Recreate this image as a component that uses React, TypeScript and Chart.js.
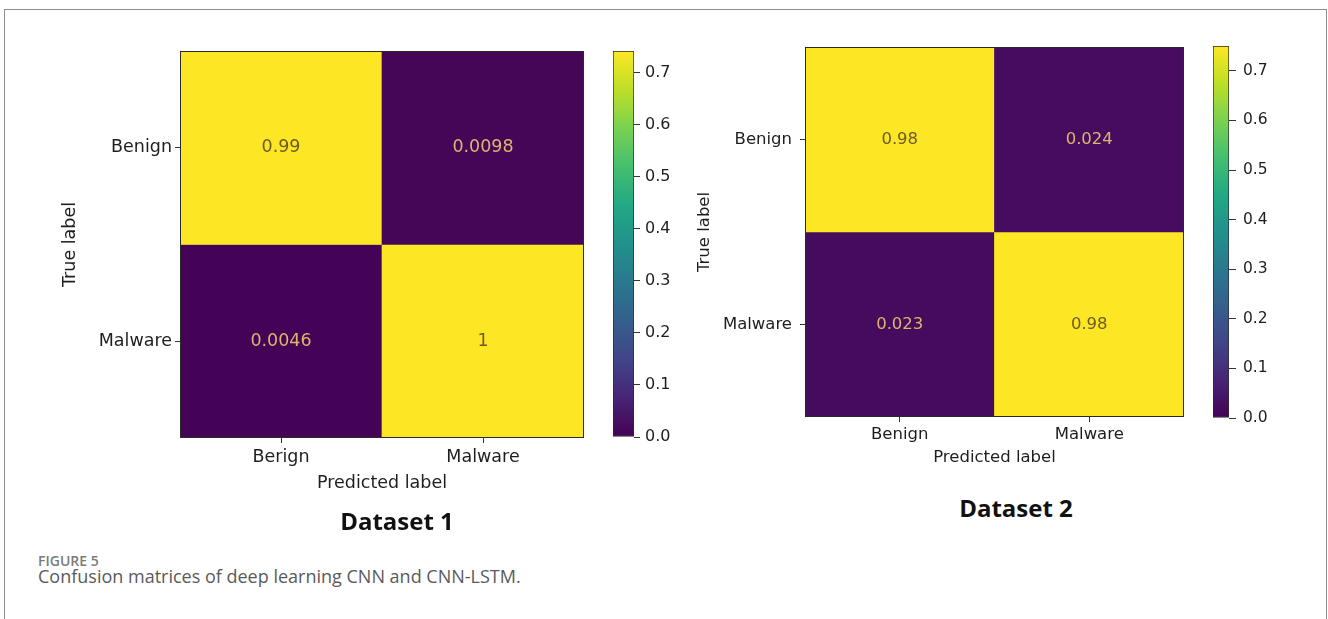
import React, { useEffect, useRef } from 'react';
import { Chart, registerables } from 'chart.js';

Chart.register(...registerables);

// ---------------- data ----------------
const rowLabels = ['Benign', 'Malware'];
const colLabels1 = ['Berign', 'Malware'];
const colLabels2 = ['Benign', 'Malware'];
const matrix1Benign = [0.99, 0.0098];
const matrix1Malware = [0.0046, 1];
const matrix2Benign = [0.98, 0.024];
const matrix2Malware = [0.023, 0.98];
const colorbarTicks = [0, 0.1, 0.2, 0.3, 0.4, 0.5, 0.6, 0.7];
const colorbarMax1 = 0.742;
const colorbarMax2 = 0.75;
const xTitle = 'Predicted label';
const yTitle = 'True label';
const panelTitle1 = 'Dataset 1';
const panelTitle2 = 'Dataset 2';
const figureLabel = 'FIGURE 5';
const captionText = 'Confusion matrices of deep learning CNN and CNN-LSTM.';

// ---------------- colormap ----------------
const VIRIDIS = ['#440154', '#482475', '#414487', '#355f8d', '#2a788e', '#21918c', '#22a884', '#44bf70', '#7ad151', '#bddf26', '#fde725'];

function hexToRgb(h: string) {
  const n = parseInt(h.slice(1), 16);
  return [(n >> 16) & 255, (n >> 8) & 255, n & 255];
}

function viridis(t: number) {
  const tt = Math.max(0, Math.min(1, t));
  const p = tt * (VIRIDIS.length - 1);
  const i = Math.min(Math.floor(p), VIRIDIS.length - 2);
  const f = p - i;
  const a = hexToRgb(VIRIDIS[i]);
  const b = hexToRgb(VIRIDIS[i + 1]);
  const c = a.map((v, k) => Math.round(v + (b[k] - v) * f));
  return `rgb(${c[0]},${c[1]},${c[2]})`;
}

const FONT = 'DejaVu Sans';
const TEXT = '#1e1e1e';

const cellTextPlugin = {
  id: 'cellText',
  afterDatasetsDraw(chart: any, _args: any, opts: any) {
    const ctx = chart.ctx;
    ctx.save();
    ctx.font = `${opts.size}px "${FONT}"`;
    ctx.textAlign = 'center';
    ctx.textBaseline = 'middle';
    chart.data.datasets.forEach((ds: any, di: number) => {
      const meta = chart.getDatasetMeta(di);
      meta.data.forEach((el: any, i: number) => {
        const v = ds.cellValues[i];
        const { x, y, base } = el.getProps(['x', 'y', 'base'], true);
        ctx.fillStyle = v / opts.vmax > 0.5 ? '#6e5a26' : '#dfb46c';
        ctx.fillText(String(v), x, (y + base) / 2);
      });
    });
    const a = chart.chartArea;
    ctx.strokeStyle = '#2a2a2a';
    ctx.lineWidth = 1;
    ctx.strokeRect(Math.round(a.left) + 0.5, Math.round(a.top) + 0.5, Math.round(a.right - a.left) - 1, Math.round(a.bottom - a.top) - 1);
    ctx.restore();
  },
};

function makeMatrixConfig(rows: number[][], cols: string[], vmax: number, g: any) {
  const n = rows.length;
  const rowCenters = rows.map((_, r) => n - r - 0.5);
  const font = { family: FONT, size: g.font };
  return {
    type: 'bar',
    data: {
      labels: cols,
      datasets: rows.map((row, r) => ({
        data: row.map(() => [n - 1 - r, n - r]),
        backgroundColor: row.map((v) => viridis(v / vmax)),
        cellValues: row,
        borderWidth: 0,
        barPercentage: 1,
        categoryPercentage: 1,
        grouped: false,
      })),
    },
    options: {
      animation: false,
      responsive: false,
      maintainAspectRatio: false,
      events: [],
      layout: { padding: { left: 0, top: g.top, right: g.right, bottom: g.bottom } },
      plugins: {
        legend: { display: false },
        tooltip: { enabled: false },
        cellText: { size: g.cellFont, vmax },
      },
      scales: {
        x: {
          type: 'category',
          offset: true,
          grid: { display: true, drawOnChartArea: false, drawTicks: true, tickLength: 5, offset: false, color: '#333', tickColor: '#333' },
          border: { display: false },
          ticks: { font, color: TEXT, padding: g.xTickPad, maxRotation: 0, autoSkip: false },
          title: { display: true, text: xTitle, font, color: TEXT, padding: { top: 0, bottom: 0 } },
          afterFit: (s: any) => { s.height = g.xAxisH; },
        },
        y: {
          type: 'linear',
          min: 0,
          max: n,
          afterBuildTicks: (s: any) => { s.ticks = rowCenters.map((v) => ({ value: v })); },
          ticks: {
            font,
            color: TEXT,
            padding: g.yTickPad,
            callback: (v: number) => rowLabels[Math.floor(n - v)],
          },
          grid: { display: true, drawOnChartArea: false, drawTicks: true, tickLength: 5, color: '#333', tickColor: '#333' },
          border: { display: false },
          title: { display: true, text: yTitle, font, color: TEXT, padding: { top: g.yTitlePad, bottom: 0 } },
          afterFit: (s: any) => { s.width = g.yAxisW; },
        },
      },
    },
    plugins: [cellTextPlugin],
  } as any;
}

function makeColorbarConfig(vmax: number, g: any) {
  return {
    type: 'bar',
    data: {
      labels: [''],
      datasets: [{
        data: [vmax],
        backgroundColor: (c: any) => {
          const chart = c.chart;
          const { chartArea, scales } = chart;
          if (!chartArea || !scales.y) return VIRIDIS[0];
          const y0 = scales.y.getPixelForValue(0);
          const y1 = scales.y.getPixelForValue(vmax);
          const grad = chart.ctx.createLinearGradient(0, y0, 0, y1);
          VIRIDIS.forEach((col, i) => grad.addColorStop(i / (VIRIDIS.length - 1), col));
          return grad;
        },
        borderColor: '#2a2a2a',
        borderWidth: 1,
        borderSkipped: false,
        barPercentage: 1,
        categoryPercentage: 1,
      }],
    },
    options: {
      animation: false,
      responsive: false,
      maintainAspectRatio: false,
      events: [],
      layout: { padding: { left: g.left, top: g.top, right: 0, bottom: g.bottom } },
      plugins: { legend: { display: false }, tooltip: { enabled: false } },
      scales: {
        x: { display: false },
        y: {
          position: 'right',
          min: 0,
          max: vmax,
          afterBuildTicks: (s: any) => { s.ticks = colorbarTicks.map((v) => ({ value: v })); },
          ticks: { font: { family: FONT, size: g.font }, color: TEXT, padding: g.tickPad, callback: (v: number) => v.toFixed(1) },
          grid: { display: true, drawOnChartArea: false, drawTicks: true, tickLength: g.tickLen, color: '#333', tickColor: '#333' },
          border: { display: false },
          afterFit: (s: any) => { s.width = g.axisW; },
        },
      },
    },
  } as any;
}

const geoM1 = { top: 51, right: 16, bottom: 16, font: 17.5, cellFont: 17.5, xTickPad: 4, xAxisH: 56, yTickPad: 3, yTitlePad: 60, yAxisW: 180 };
const geoM2 = { top: 47, right: 16, bottom: 22, font: 16.5, cellFont: 16.5, xTickPad: 3, xAxisH: 51, yTickPad: 8, yTitlePad: 15, yAxisW: 125 };
const geoC1 = { left: 23, top: 51, bottom: 33, font: 16, tickPad: 5, tickLen: 6, axisW: 46 };
const geoC2 = { left: 23, top: 46, bottom: 32, font: 15.5, tickPad: 7, tickLen: 7, axisW: 61 };

function Canvas({ refObj, left, top, width, height }: any) {
  return (
    <canvas
      ref={refObj}
      width={width}
      height={height}
      style={{ position: 'absolute', left, top, width, height }}
    />
  );
}

export default function App() {
  const m1 = useRef<HTMLCanvasElement>(null);
  const m2 = useRef<HTMLCanvasElement>(null);
  const c1 = useRef<HTMLCanvasElement>(null);
  const c2 = useRef<HTMLCanvasElement>(null);

  useEffect(() => {
    const charts = [
      new Chart(m1.current as HTMLCanvasElement, makeMatrixConfig([matrix1Benign, matrix1Malware], colLabels1, colorbarMax1, geoM1)),
      new Chart(m2.current as HTMLCanvasElement, makeMatrixConfig([matrix2Benign, matrix2Malware], colLabels2, colorbarMax2, geoM2)),
      new Chart(c1.current as HTMLCanvasElement, makeColorbarConfig(colorbarMax1, geoC1)),
      new Chart(c2.current as HTMLCanvasElement, makeColorbarConfig(colorbarMax2, geoC2)),
    ];
    return () => charts.forEach((c) => c.destroy());
  }, []);

  return (
    <div style={{ position: 'absolute', left: 0, top: 0, width: 1328, height: 619, background: '#fff', overflow: 'hidden' }}>
      <div style={{ position: 'absolute', left: 4, top: 9, width: 1323, height: 640, border: '1px solid #8e8e8e', borderBottom: 'none', boxSizing: 'border-box' }} />
      <Canvas refObj={m1} left={0} top={0} width={600} height={510} />
      <Canvas refObj={c1} left={590} top={0} width={90} height={470} />
      <Canvas refObj={m2} left={680} top={0} width={520} height={490} />
      <Canvas refObj={c2} left={1190} top={0} width={100} height={450} />
      <div style={{ position: 'absolute', left: 297, width: 200, top: 506, textAlign: 'center', fontFamily: '"Open Sans"', fontWeight: 700, fontSize: 24, lineHeight: '30px', color: '#111' }}>{panelTitle1}</div>
      <div style={{ position: 'absolute', left: 916, width: 200, top: 493, textAlign: 'center', fontFamily: '"Open Sans"', fontWeight: 700, fontSize: 24, lineHeight: '30px', color: '#111' }}>{panelTitle2}</div>
      <div style={{ position: 'absolute', left: 38, top: 552, fontFamily: '"Open Sans"', fontWeight: 600, fontSize: 14, lineHeight: '18px', color: '#7a7a7a' }}>{figureLabel}</div>
      <div style={{ position: 'absolute', left: 38, top: 565, fontFamily: '"Open Sans"', fontWeight: 400, fontSize: 18, lineHeight: '22px', color: '#5a5a5a', whiteSpace: 'nowrap' }}>{captionText}</div>
    </div>
  );
}
